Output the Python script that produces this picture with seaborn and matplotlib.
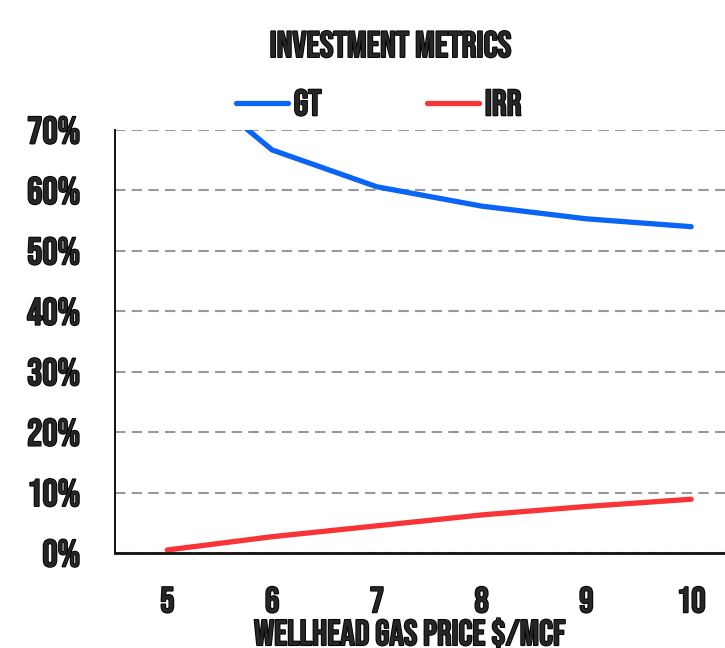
"""
Investment metrics vs wellhead gas price - line chart.
"""

import pandas as pd
import matplotlib
matplotlib.use("Agg")
import matplotlib.pyplot as plt
import matplotlib.ticker as mticker
import matplotlib.patheffects as pe
from matplotlib import font_manager
import seaborn as sns

# -- Data -------------------------------------------------------------------
PRICES = [5, 6, 7, 8, 9, 10]
GT = [0.81, 0.667, 0.606, 0.574, 0.553, 0.540]
IRR = [0.005, 0.027, 0.045, 0.063, 0.077, 0.089]
Y_TICKS = [0.0, 0.1, 0.2, 0.3, 0.4, 0.5, 0.6, 0.7]
SERIES = ["GT", "IRR"]

COLORS = {"GT": "#0A64F5", "IRR": "#F93437"}

# -- Style ------------------------------------------------------------------
sns.set_style("white")
names = {f.name for f in font_manager.fontManager.ttflist}
FONT = ["Bebas Neue", "DejaVu Sans"] if "Bebas Neue" in names else ["DejaVu Sans"]
plt.rcParams["font.family"] = FONT
BOLD = [pe.withStroke(linewidth=1.3, foreground="black")]

df = pd.DataFrame({
    "price": PRICES * 2,
    "value": GT + IRR,
    "metric": ["GT"] * len(GT) + ["IRR"] * len(IRR),
})

fig = plt.figure(figsize=(7.25, 6.48), dpi=100)
ax = fig.add_axes([0.1586, 0.1466, 0.867, 0.6528])

sns.lineplot(data=df, x="price", y="value", hue="metric", palette=COLORS,
             linewidth=3.8, ax=ax, legend=False, solid_capstyle="round")

ax.set_xlim(4.5, 10.5)
ax.set_ylim(0, 0.70)
ax.set_xticks(PRICES)
ax.set_yticks(Y_TICKS)
ax.yaxis.set_major_formatter(mticker.FuncFormatter(lambda v, _: f"{v*100:.0f}%"))

ax.grid(axis="y", color="#999999", linestyle=(0, (5, 3)), linewidth=1.5)
ax.grid(axis="x", visible=False)
for side in ["top", "right"]:
    ax.spines[side].set_visible(False)
ax.spines["left"].set_color("#111111")
ax.spines["bottom"].set_color("#111111")
ax.spines["left"].set_linewidth(1.4)
ax.spines["bottom"].set_linewidth(2.0)
ax.set_axisbelow(True)

for lab in ax.get_yticklabels():
    lab.set(fontsize=27.5, path_effects=BOLD)
for lab in ax.get_xticklabels():
    lab.set(fontsize=26, path_effects=BOLD)
ax.tick_params(axis="y", length=0, pad=25)
ax.tick_params(axis="x", length=0, pad=24)

ax.set_xlabel("WELLHEAD GAS PRICE $/MCF", fontsize=26, path_effects=BOLD)
ax.xaxis.set_label_coords(0.469, -0.154)
ax.xaxis.label.set_va("top")
ax.set_ylabel("")

fig.text(0.538, 0.932, "INVESTMENT METRICS", ha="center", va="center",
         fontsize=26.5, path_effects=BOLD)

handles = [plt.Line2D([], [], color=COLORS[m], linewidth=3.8, solid_capstyle="round")
           for m in SERIES]
leg = fig.legend(handles, SERIES, loc="center", bbox_to_anchor=(0.522, 0.842),
                 ncol=2, frameon=False, handlelength=1.43, handletextpad=0.15,
                 columnspacing=2.85, prop=dict(family=FONT, size=26.5))
for t in leg.get_texts():
    t.set_path_effects(BOLD)

fig.savefig("out.png", dpi=100)
plt.close()
